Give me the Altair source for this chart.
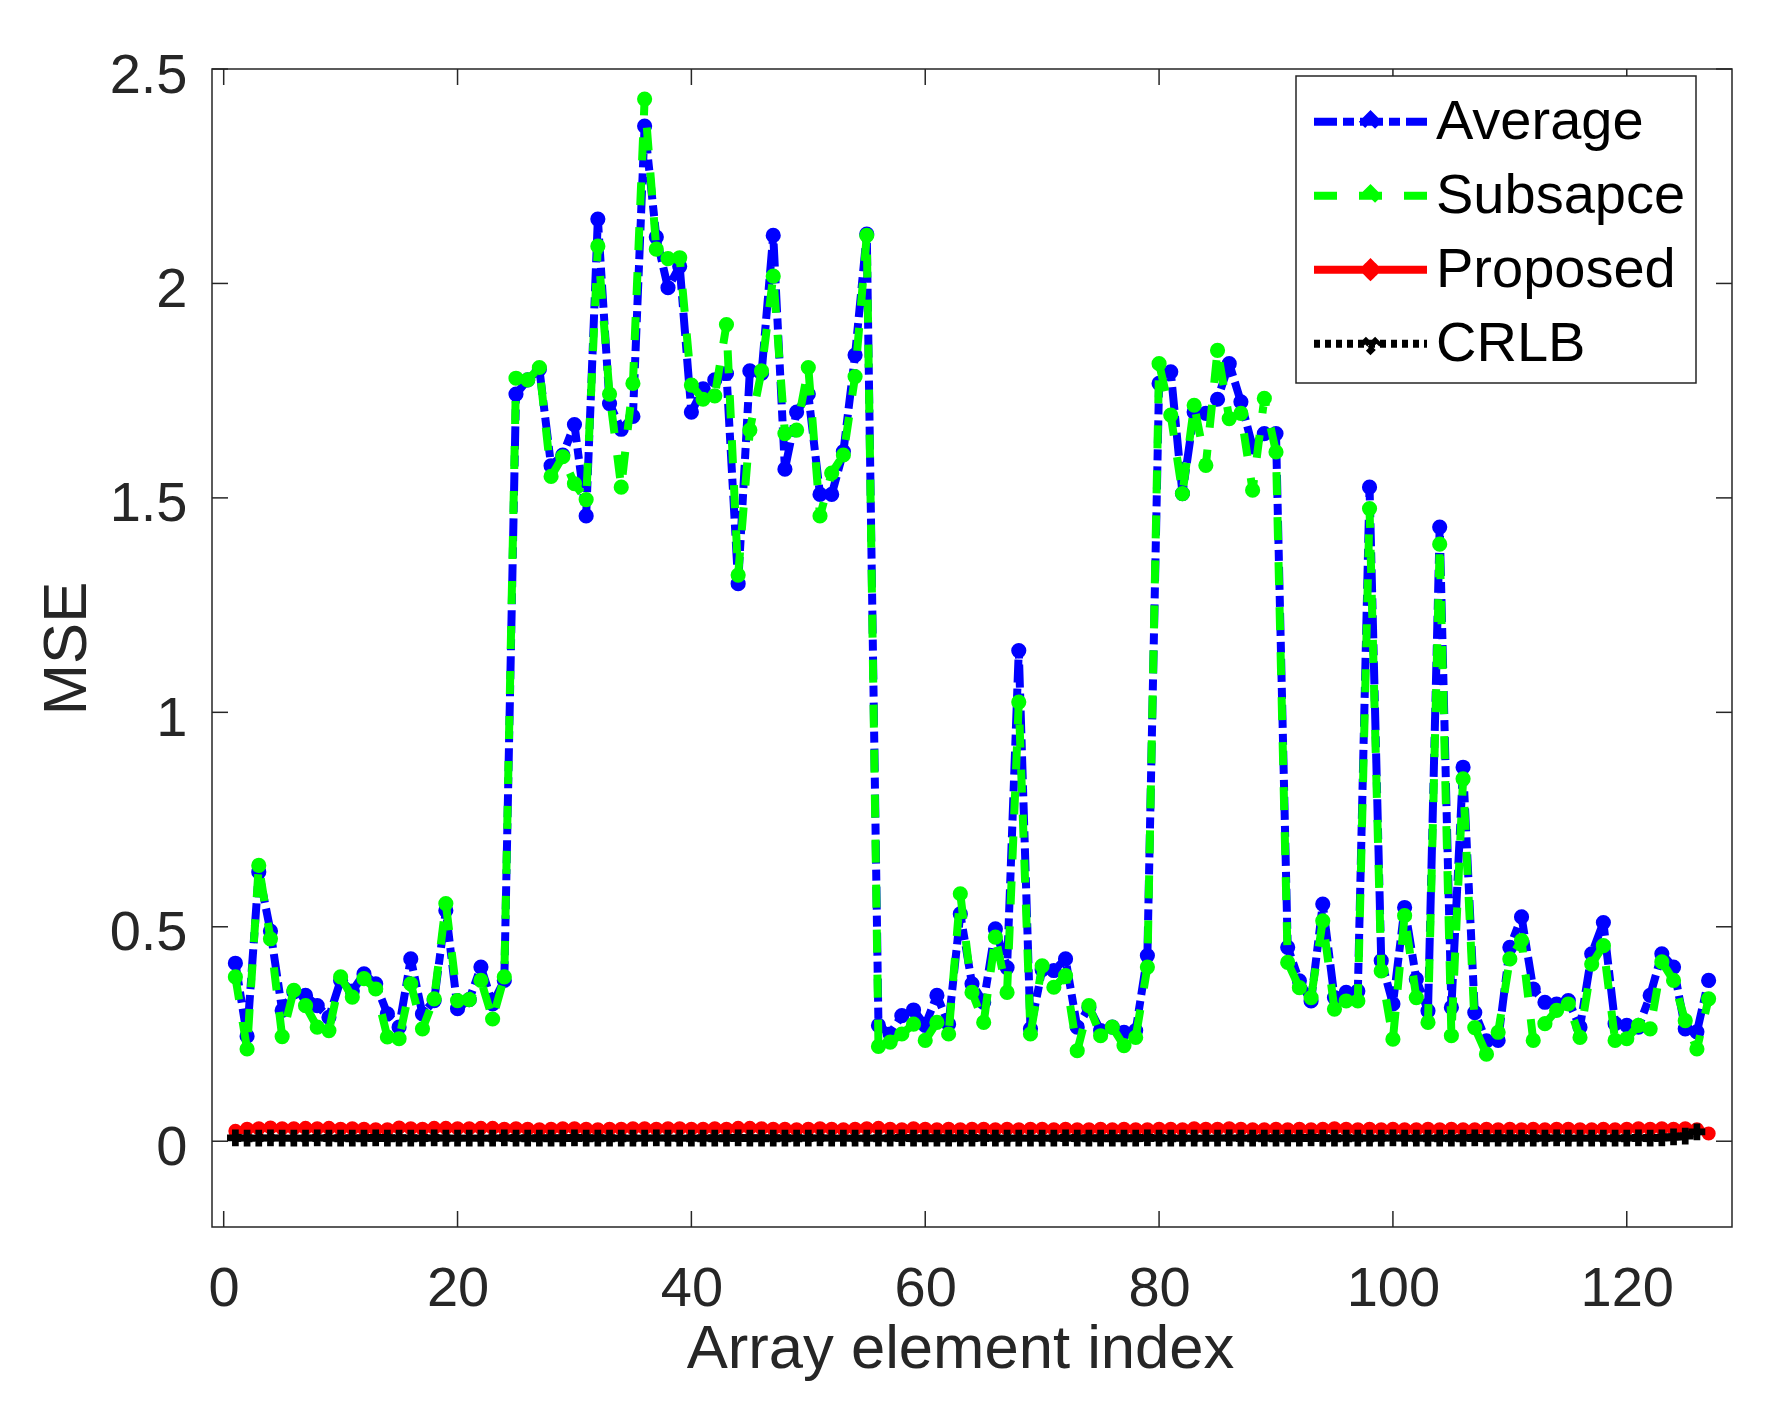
import pandas as pd
import altair as alt

# ---- data ----
AVERAGE = [
    0.415, 0.245, 0.628, 0.490, 0.305, 0.348, 0.340, 0.316, 0.289, 0.375,
    0.350, 0.390, 0.367, 0.297, 0.266, 0.425, 0.297, 0.328, 0.538, 0.309,
    0.330, 0.406, 0.320, 0.375, 1.742, 1.775, 1.800, 1.575, 1.600, 1.671,
    1.458, 2.150, 1.720, 1.660, 1.690, 2.367, 2.108, 1.990, 2.040, 1.700,
    1.754, 1.775, 1.790, 1.300, 1.796, 1.790, 2.112, 1.567, 1.700, 1.742,
    1.508, 1.508, 1.608, 1.833, 2.115, 0.270, 0.250, 0.293, 0.306, 0.270,
    0.340, 0.273, 0.530, 0.367, 0.324, 0.495, 0.405, 1.144, 0.262, 0.400,
    0.398, 0.425, 0.266, 0.312, 0.258, 0.266, 0.254, 0.258, 0.433, 1.767,
    1.794, 1.510, 1.700, 1.697, 1.730, 1.813, 1.724, 1.619, 1.650, 1.650,
    0.452, 0.374, 0.327, 0.553, 0.335, 0.347, 0.350, 1.525, 0.421, 0.320,
    0.545, 0.378, 0.304, 1.432, 0.312, 0.872, 0.300, 0.234, 0.235, 0.452,
    0.523, 0.355, 0.324, 0.320, 0.328, 0.266, 0.437, 0.510, 0.274, 0.270,
    0.266, 0.340, 0.437, 0.406, 0.262, 0.255, 0.375,
]
SUBSPACE = [
    0.383, 0.215, 0.643, 0.472, 0.244, 0.352, 0.316, 0.266, 0.258, 0.383,
    0.336, 0.379, 0.355, 0.243, 0.239, 0.367, 0.262, 0.332, 0.554, 0.328,
    0.330, 0.375, 0.285, 0.383, 1.779, 1.775, 1.804, 1.550, 1.596, 1.533,
    1.496, 2.087, 1.742, 1.525, 1.767, 2.430, 2.080, 2.058, 2.060, 1.763,
    1.730, 1.738, 1.904, 1.320, 1.658, 1.796, 2.017, 1.650, 1.658, 1.804,
    1.458, 1.558, 1.600, 1.783, 2.112, 0.221, 0.231, 0.250, 0.273, 0.235,
    0.277, 0.250, 0.577, 0.347, 0.277, 0.476, 0.347, 1.024, 0.250, 0.409,
    0.359, 0.386, 0.211, 0.316, 0.246, 0.266, 0.223, 0.242, 0.406, 1.813,
    1.693, 1.510, 1.716, 1.576, 1.844, 1.685, 1.697, 1.518, 1.732, 1.607,
    0.417, 0.358, 0.335, 0.514, 0.308, 0.327, 0.327, 1.475, 0.397, 0.238,
    0.526, 0.335, 0.277, 1.392, 0.246, 0.845, 0.265, 0.203, 0.254, 0.425,
    0.468, 0.235, 0.274, 0.305, 0.320, 0.242, 0.413, 0.456, 0.235, 0.239,
    0.270, 0.262, 0.418, 0.375, 0.281, 0.215, 0.332,
]
PROPOSED = [
    0.024, 0.029, 0.030, 0.032, 0.030, 0.030, 0.031, 0.030, 0.031, 0.029,
    0.030, 0.029, 0.028, 0.028, 0.032, 0.030, 0.029, 0.031, 0.031, 0.030,
    0.030, 0.031, 0.031, 0.029, 0.030, 0.029, 0.028, 0.029, 0.030, 0.030,
    0.029, 0.028, 0.029, 0.029, 0.030, 0.030, 0.029, 0.030, 0.030, 0.029,
    0.029, 0.030, 0.029, 0.031, 0.031, 0.030, 0.029, 0.029, 0.028, 0.029,
    0.030, 0.029, 0.028, 0.029, 0.030, 0.031, 0.029, 0.028, 0.030, 0.029,
    0.028, 0.029, 0.028, 0.029, 0.029, 0.028, 0.029, 0.028, 0.029, 0.029,
    0.028, 0.029, 0.028, 0.028, 0.029, 0.028, 0.029, 0.028, 0.028, 0.029,
    0.029, 0.028, 0.030, 0.029, 0.029, 0.030, 0.029, 0.028, 0.028, 0.029,
    0.028, 0.029, 0.028, 0.029, 0.030, 0.029, 0.028, 0.029, 0.028, 0.029,
    0.028, 0.028, 0.029, 0.028, 0.029, 0.028, 0.028, 0.029, 0.028, 0.029,
    0.028, 0.029, 0.028, 0.029, 0.029, 0.028, 0.028, 0.029, 0.028, 0.029,
    0.030, 0.029, 0.030, 0.029, 0.030, 0.028, 0.018,
]
CRLB = [
    0.008, 0.007, 0.007, 0.008, 0.007, 0.007, 0.007, 0.008, 0.007, 0.007,
    0.007, 0.007, 0.008, 0.007, 0.007, 0.007, 0.007, 0.008, 0.007, 0.007,
    0.007, 0.007, 0.007, 0.008, 0.007, 0.007, 0.007, 0.007, 0.007, 0.008,
    0.007, 0.007, 0.007, 0.007, 0.007, 0.007, 0.008, 0.007, 0.007, 0.007,
    0.007, 0.007, 0.007, 0.008, 0.007, 0.007, 0.007, 0.007, 0.007, 0.007,
    0.008, 0.007, 0.007, 0.007, 0.007, 0.007, 0.007, 0.008, 0.007, 0.007,
    0.007, 0.007, 0.007, 0.007, 0.008, 0.007, 0.007, 0.007, 0.007, 0.007,
    0.007, 0.008, 0.007, 0.007, 0.007, 0.007, 0.007, 0.007, 0.008, 0.007,
    0.007, 0.007, 0.007, 0.007, 0.007, 0.008, 0.007, 0.007, 0.007, 0.007,
    0.007, 0.007, 0.008, 0.007, 0.007, 0.007, 0.007, 0.007, 0.007, 0.008,
    0.007, 0.007, 0.007, 0.007, 0.007, 0.007, 0.008, 0.007, 0.007, 0.007,
    0.007, 0.007, 0.007, 0.008, 0.007, 0.007, 0.007, 0.007, 0.007, 0.007,
    0.008, 0.007, 0.008, 0.010, 0.012, 0.022,
]

SERIES = ["Average", "Subsapce", "Proposed", "CRLB"]
COLORS = ["#0000ff", "#00ff00", "#ff0000", "#000000"]
DASHES = [[23, 6, 11, 6], [23, 22], [1, 0], [6, 5]]
MARKERS = ["circle", "circle", "circle", "cross"]
MARKER_SIZES = [230, 230, 200, 280]

X_TICKS = [0, 20, 40, 60, 80, 100, 120]
Y_TICKS = [0, 0.5, 1, 1.5, 2, 2.5]
X_DOMAIN = [-1, 129]
Y_DOMAIN = [-0.2, 2.5]

# ---- styling ----
W, H = 1520, 1158
FONT = "Liberation Sans"
INK = "#262626"
TICK_FS = 56
TITLE_FS = 61.6
TICK_LEN = 16
# legend symbol: long line plus a small diamond marker in the middle
LEGEND_PATH = "M-2.825,0H2.825M-0.3,0L0,-0.3L0.3,0L0,0.3Z"

frames = []
for name, vals in zip(SERIES, [AVERAGE, SUBSPACE, PROPOSED, CRLB]):
    frames.append(pd.DataFrame({"idx": list(range(1, len(vals) + 1)), "mse": vals, "series": name}))
df = pd.concat(frames, ignore_index=True)

x_scale = alt.Scale(domain=X_DOMAIN, nice=False, zero=False)
y_scale = alt.Scale(domain=Y_DOMAIN, nice=False, zero=False)

x_enc = alt.X(
    "idx:Q",
    scale=x_scale,
    axis=alt.Axis(
        values=X_TICKS, title="Array element index", ticks=False, tickSize=0,
        domain=False, grid=False, labelPadding=34, labelFontSize=TICK_FS,
        titleX=748, titleY=140, titleBaseline="alphabetic",
    ),
)
y_enc = alt.Y(
    "mse:Q",
    scale=y_scale,
    axis=alt.Axis(
        values=Y_TICKS, title="MSE", format="~g", ticks=False, tickSize=0,
        domain=False, grid=False, labelPadding=25, labelOffset=6,
        labelFontSize=TICK_FS, titleAngle=270, titleX=-127, titleY=H / 2,
        titleAlign="center", titleBaseline="alphabetic",
    ),
)

legend = alt.Legend(
    title=" ", titleFontSize=7, titlePadding=0,
    orient="none", legendX=1084, legendY=7, padding=10.7,
    fillColor="white", strokeColor=INK, symbolType=LEGEND_PATH,
    symbolSize=1600, symbolStrokeWidth=8, symbolOffset=35.8,
    labelFont=FONT, labelFontSize=TICK_FS, labelColor="black",
    labelOffset=37.5, rowPadding=18, labelLimit=0,
)
color_enc = alt.Color("series:N", scale=alt.Scale(domain=SERIES, range=COLORS), legend=legend, sort=SERIES)
dash_enc = alt.StrokeDash("series:N", scale=alt.Scale(domain=SERIES, range=DASHES), legend=legend, sort=SERIES)

layers = []
for name, col, shape, msize in zip(SERIES, COLORS, MARKERS, MARKER_SIZES):
    base = alt.Chart(df).transform_filter(alt.datum.series == name)
    line = base.mark_line(strokeWidth=8, strokeJoin="round").encode(
        x=x_enc, y=y_enc, color=color_enc, strokeDash=dash_enc
    )
    pts = base.mark_point(filled=True, shape=shape, size=msize, color=col, opacity=1).encode(
        x=x_enc, y=y_enc
    )
    layers += [line, pts]

# inward tick marks on all four sides (MATLAB box style); same fields so the axes merge
xt = pd.DataFrame({"idx": X_TICKS})
yt = pd.DataFrame({"mse": Y_TICKS})
tick = dict(color=INK, strokeWidth=1.5)
layers += [
    alt.Chart(xt).mark_rule(**tick).encode(x=x_enc, y=alt.value(H), y2=alt.value(H - TICK_LEN)),
    alt.Chart(xt).mark_rule(**tick).encode(x=x_enc, y=alt.value(0), y2=alt.value(TICK_LEN)),
    alt.Chart(yt).mark_rule(**tick).encode(y=y_enc, x=alt.value(0), x2=alt.value(TICK_LEN)),
    alt.Chart(yt).mark_rule(**tick).encode(y=y_enc, x=alt.value(W), x2=alt.value(W - TICK_LEN)),
]

chart = (
    alt.layer(*layers)
    .properties(
        width=W,
        height=H,
        autosize=alt.AutoSizeParams(type="none"),
        padding={"left": 204, "top": 61, "right": 44, "bottom": 173},
        background="white",
    )
    .configure_view(stroke=INK, strokeWidth=1.5)
    .configure_axis(
        labelFont=FONT, titleFont=FONT, labelColor=INK, titleColor=INK,
        titleFontSize=TITLE_FS, titleFontWeight="normal",
    )
    .configure_legend(strokeWidth=1.5)
)

chart.save("out.html", embed_options={"renderer": "svg", "actions": False})
